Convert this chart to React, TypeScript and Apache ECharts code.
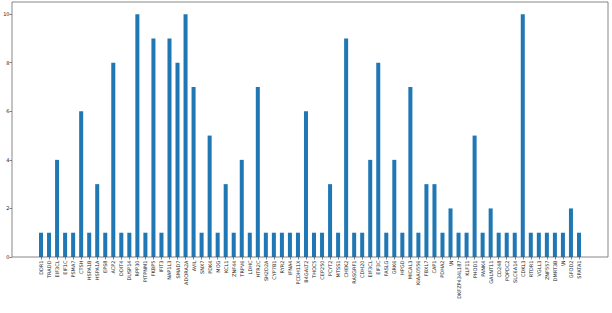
import React, { useEffect, useRef } from "react";
import * as echarts from "echarts";

const categories: string[] = [
  "DDR1", "TRADD", "EIF3CL", "EIF1C", "PSMA7", "CTSH", "HSPA1B", "HSPA1A", "EPS8", "ACP2",
  "DDIT4", "DUSP14", "RPP30", "PITPNM1", "FKBP5", "IFIT3", "NAP1L3", "SMAD7", "ADORA2A", "AVIL",
  "SNX7", "PDK4", "MOG", "KCL1", "ZNF44", "TRPV6", "LDHC", "HTR2C", "SH2D2A", "CYP7B1",
  "RYR2", "IFNA4", "PCDH11X", "B4GALT2", "THOC5", "CEP250", "PCYT2", "MTSS1", "CHEK2", "RASGRF1",
  "CDH20", "EIF3CL", "EIF3C", "FASLG", "GRK6", "HPGD", "MICAL3", "KIAA0556", "FBXL7", "CAP1",
  "PDHA2", "\\N", "DKFZP434L187", "KLF11", "PHOD1", "PANK4", "GALNT11", "CD248", "POPDC2", "SLC6A14",
  "CDKL3", "RTDR1", "VGLL3", "ZNF557", "DMRT3B", "\\N", "GFOD2", "SPATA1",
];

const values: number[] = [
  1, 1, 4, 1, 1, 6, 1, 3, 1, 8,
  1, 1, 10, 1, 9, 1, 9, 8, 10, 7,
  1, 5, 1, 3, 1, 4, 1, 7, 1, 1,
  1, 1, 1, 6, 1, 1, 3, 1, 9, 1,
  1, 4, 8, 1, 4, 1, 7, 1, 3, 3,
  1, 2, 1, 1, 5, 1, 2, 1, 1, 1,
  10, 1, 1, 1, 1, 1, 2, 1,
];

const yTicks: number[] = [0, 2, 4, 6, 8, 10];

export default function App() {
  const ref = useRef<HTMLDivElement>(null);
  useEffect(() => {
    if (!ref.current) return;
    const chart = echarts.init(ref.current, undefined, { renderer: "svg" });
    const font = "DejaVu Sans";
    chart.setOption({
      animation: false,
      backgroundColor: "#ffffff",
      grid: { left: 37, right: 29, top: 2, bottom: 56, containLabel: false },
      xAxis: {
        type: "category",
        data: categories,
        boundaryGap: true,
        axisLine: { show: false },
        axisTick: { show: true, alignWithLabel: true, length: 2.5, lineStyle: { color: "#333", width: 0.6 } },
        axisLabel: {
          rotate: 90,
          interval: 0,
          fontSize: 5,
          fontFamily: font,
          color: "#222",
          margin: 3.5,
        },
      },
      yAxis: {
        type: "value",
        min: 0,
        max: 10.5,
        interval: 2,
        offset: 25,
        splitLine: { show: false },
        axisLine: { show: false },
        axisTick: { show: true, length: 2.5, lineStyle: { color: "#333", width: 0.6 } },
        axisLabel: {
          fontSize: 5,
          fontFamily: font,
          color: "#222",
          margin: 2.5,
          showMaxLabel: false,
          formatter: (v: number) => (yTicks.includes(v) ? String(v) : ""),
        },
      },
      graphic: [
        {
          type: "rect",
          shape: { x: 12, y: 2, width: 596, height: 255 },
          style: { fill: "none", stroke: "#555", lineWidth: 0.7 },
          silent: true,
          z: 10,
        },
      ],
      series: [
        {
          type: "bar",
          data: values,
          barWidth: "50%",
          itemStyle: { color: "#1f77b4" },
        },
      ],
    });
    return () => chart.dispose();
  }, []);
  return <div ref={ref} style={{ width: 612, height: 313, position: "absolute", left: 0, top: 0 }} />;
}
